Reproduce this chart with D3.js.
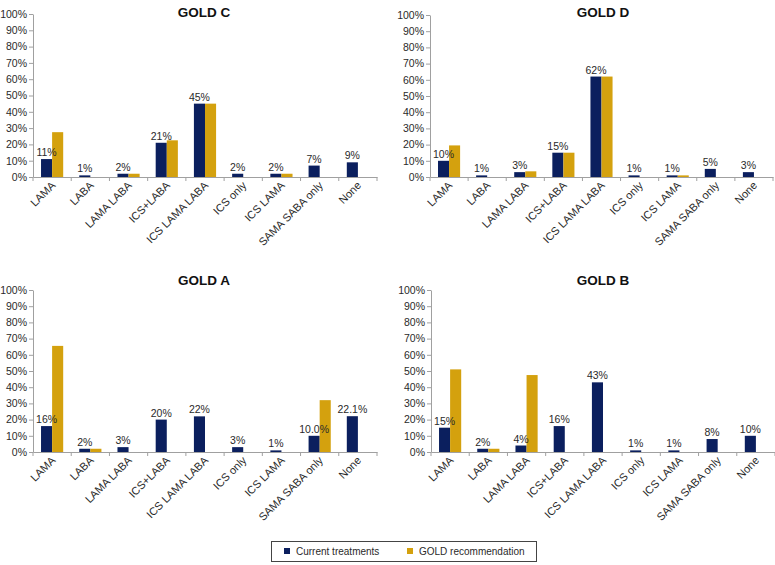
<!DOCTYPE html>
<html><head><meta charset="utf-8">
<script src="https://cdn.jsdelivr.net/npm/d3@7"></script>
<style>body{margin:0;background:#fff;} svg{display:block;font-family:"Liberation Sans",Arial,sans-serif;}</style>
</head><body>
<svg id="c" width="775" height="565"></svg>
<script>
const categories = ["LAMA","LABA","LAMA LABA","ICS+LABA","ICS LAMA LABA","ICS only","ICS LAMA","SAMA SABA only","None"];
const yTicks = [0,10,20,30,40,50,60,70,80,90,100];
const seriesNames = ["Current treatments","GOLD recommendation"];
const colors = ["#0b1f5e","#d4a10e"];

const goldCCurrent = [11,1,2,21,45,2,2,7,9];
const goldCRecommend = [27.5,0,2,22.5,45,0,2,0,0];
const goldCLabels = ["11%","1%","2%","21%","45%","2%","2%","7%","9%"];

const goldDCurrent = [10,1,3,15,62,1,1,5,3];
const goldDRecommend = [19.5,0,3.5,15,62,0,1,0,0];
const goldDLabels = ["10%","1%","3%","15%","62%","1%","1%","5%","3%"];

const goldACurrent = [16,2,3,20,22,3,1,10,22.1];
const goldARecommend = [65.5,2,0,0,0,0,0,32,0];
const goldALabels = ["16%","2%","3%","20%","22%","3%","1%","10.0%","22.1%"];

const goldBCurrent = [15,2,4,16,43,1,1,8,10];
const goldBRecommend = [51,2,47.5,0,0,0,0,0,0];
const goldBLabels = ["15%","2%","4%","16%","43%","1%","1%","8%","10%"];

const panels = [
  {title:"GOLD C", cur:goldCCurrent, rec:goldCRecommend, labels:goldCLabels, l:33, r:377, t:14, b:177, tx:204, ty:17},
  {title:"GOLD D", cur:goldDCurrent, rec:goldDRecommend, labels:goldDLabels, l:430, r:773, t:15, b:177, tx:603, ty:17},
  {title:"GOLD A", cur:goldACurrent, rec:goldARecommend, labels:goldALabels, l:33, r:377, t:290, b:452, tx:204, ty:285},
  {title:"GOLD B", cur:goldBCurrent, rec:goldBRecommend, labels:goldBLabels, l:431, r:775, t:290, b:452, tx:603, ty:285}
];

const svg = d3.select("#c");
const axisColor = "#a0a0a0";
const textColor = "#2a2a2a";

panels.forEach(p => {
  const g = svg.append("g");
  const x = d3.scaleBand().domain(categories).range([p.l, p.r]).padding(0);
  const y = d3.scaleLinear().domain([0,100]).range([p.b, p.t]);
  const bw = x.bandwidth() * 0.29;

  g.append("text").attr("x", p.tx).attr("y", p.ty).attr("text-anchor","middle")
    .attr("font-size", 13.5).attr("font-weight","bold").attr("fill","#111").text(p.title);

  const ya = g.append("g").attr("transform", `translate(${p.l},0)`)
    .call(d3.axisLeft(y).tickValues(yTicks).tickFormat(d => d + "%").tickSize(4).tickSizeOuter(0));
  ya.select(".domain").attr("stroke", axisColor);
  ya.selectAll(".tick line").attr("stroke", axisColor);
  ya.selectAll(".tick text").attr("font-size", 10.5).attr("fill", textColor)
    .attr("font-family","Liberation Sans, Arial, sans-serif").attr("x", -6);

  const xa = g.append("g").attr("transform", `translate(0,${p.b})`)
    .call(d3.axisBottom(x).tickSize(0).tickSizeOuter(0));
  xa.select(".domain").attr("stroke", axisColor);
  xa.selectAll(".tick text").remove();
  const bounds = categories.map(c => x(c)).concat([p.r]);
  xa.selectAll(".btick").data(bounds).enter().append("line")
    .attr("x1", d => d).attr("x2", d => d).attr("y1", 0).attr("y2", 4).attr("stroke", axisColor);
  xa.selectAll(".xl").data(categories).enter().append("text")
    .attr("font-size", 11).attr("fill", textColor).attr("text-anchor","end")
    .attr("font-family","Liberation Sans, Arial, sans-serif")
    .attr("transform", d => `translate(${x(d) + x.bandwidth()/2 + 4},${9}) rotate(-45)`)
    .text(d => d);

  const cx = c => x(c) + x.bandwidth()/2;
  g.selectAll(".bc").data(categories).enter().append("rect")
    .attr("x", c => cx(c) - bw).attr("width", bw)
    .attr("y", (c,i) => y(p.cur[i])).attr("height", (c,i) => p.b - y(p.cur[i]))
    .attr("fill", colors[0]);
  g.selectAll(".br").data(categories).enter().append("rect")
    .attr("x", c => cx(c)).attr("width", bw)
    .attr("y", (c,i) => y(p.rec[i])).attr("height", (c,i) => p.b - y(p.rec[i]))
    .attr("fill", colors[1]);

  g.selectAll(".lb").data(categories).enter().append("text")
    .attr("x", c => cx(c) - bw/2).attr("y", (c,i) => y(p.cur[i]) - 3)
    .attr("text-anchor","middle").attr("font-size", 10.5).attr("fill", textColor)
    .text((c,i) => p.labels[i]);
});

const lg = svg.append("g");
lg.append("rect").attr("x", 271.5).attr("y", 541.5).attr("width", 265).attr("height", 20)
  .attr("fill","#fff").attr("stroke","#444").attr("stroke-width",1);
const legendX = [284, 407];
seriesNames.forEach((n,i) => {
  lg.append("rect").attr("x", legendX[i]).attr("y", 548).attr("width", 6).attr("height", 6).attr("fill", colors[i]);
  lg.append("text").attr("x", legendX[i] + 12).attr("y", 555).attr("font-size", 10).attr("fill", textColor).text(n);
});
</script>
</body></html>
